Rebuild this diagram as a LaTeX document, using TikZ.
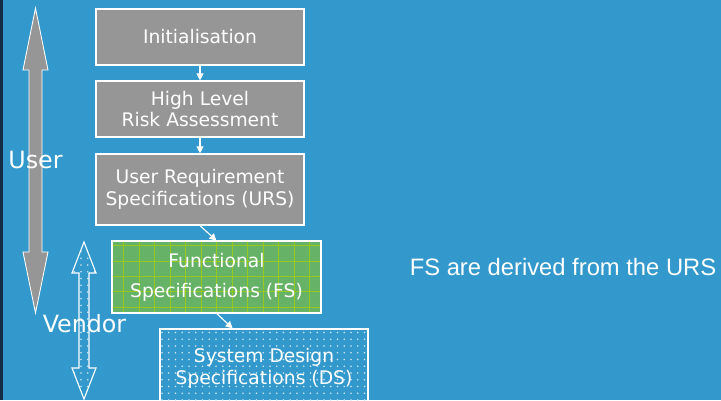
\documentclass[tikz,border=0pt]{standalone}
\usepackage{fontspec}
\setmainfont{DejaVu Sans}
\newfontfamily\arialfont{Liberation Sans}
\usetikzlibrary{arrows.meta,patterns.meta,calc}
\definecolor{bgblue}{RGB}{51,153,204}
\definecolor{darkedge}{RGB}{20,45,70}
\definecolor{boxgray}{RGB}{150,150,150}
\definecolor{fsgreen}{RGB}{102,178,102}
\definecolor{gridgreen}{RGB}{150,200,30}
\tikzset{
  stepbox/.style={draw=white, line width=0.8pt, text=white, align=center,
    inner sep=0pt, minimum width=5.2cm,
    font=\fontsize{13.3}{15.6}\selectfont},
  graybox/.style={stepbox, fill=boxgray},
  greenbox/.style={stepbox, preaction={fill=fsgreen},
    pattern={Hatch[distance=11pt, angle=0, line width=0.4pt]}, pattern color=gridgreen,
    font=\fontsize{13.3}{21.3}\selectfont},
  dotbox/.style={stepbox, pattern={Dots[radius=0.55pt, distance=4.8pt]}, pattern color=white!75!bgblue},
  flow/.style={draw=white, line width=0.8pt, -{Triangle[width=5pt,length=5pt]}},
  sidelabel/.style={text=white, anchor=base, font=\fontsize{16.9}{20}\selectfont}
}
\begin{document}
\begin{tikzpicture}[x=0.025cm, y=-0.025cm]
        % background
        \fill[bgblue] (0,0) rectangle (721,400);
        \fill[darkedge] (0,0) rectangle (2.5,400);
        \clip (0,0) rectangle (721,400);
        % role arrows
        \filldraw[fill=boxgray, draw=white, line width=0.6pt]
            (35.5,8) -- (48,70) -- (42,70) -- (42,252) -- (48,252) -- (35.5,313)
            -- (23,252) -- (29,252) -- (29,70) -- (23,70) -- cycle;
        \draw[white, line width=0.8pt, pattern={Dots[radius=0.55pt, distance=4.8pt]}, pattern color=white!75!bgblue]
            (84,242) -- (96,273) -- (89,273) -- (89,368) -- (96,368) -- (84,399)
            -- (72,368) -- (79,368) -- (79,273) -- (72,273) -- cycle;
        \node[sidelabel] (user) at (35.5,169) {User};
        \node[sidelabel] (vendor) at (84.5,332) {Vendor};
        % steps
        \node[graybox, minimum height=1.4cm] (init) at (200,37) {Initialisation};
        \node[graybox, minimum height=1.4cm] (hlra) at (200,109) {High Level\\Risk Assessment};
        \node[graybox, minimum height=1.775cm] (urs) at (200,189.5) {User Requirement\\Specifications (URS)};
        \node[greenbox, minimum width=5.225cm, minimum height=1.8cm] (fs) at (216.5,277) {Functional\\Specifications (FS)};
        \node[dotbox, minimum height=2.0cm] (ds) at (264,369) {\raisebox{1.1ex}{\begin{tabular}{@{}c@{}}System Design\\Specifications (DS)\end{tabular}}};
        \draw[flow] (init) -- (hlra);
        \draw[flow] (hlra) -- (urs);
        \draw[flow] (urs.south) -- (fs.north);
        \draw[flow] (fs.south) -- ($(ds.north west)!0.35!(ds.north east)$);
        % note
        \node[text=white, anchor=base, font=\arialfont\fontsize{16.9}{20}\selectfont] (note) at (563,275) {FS are derived from the URS};
\end{tikzpicture}
\end{document}
